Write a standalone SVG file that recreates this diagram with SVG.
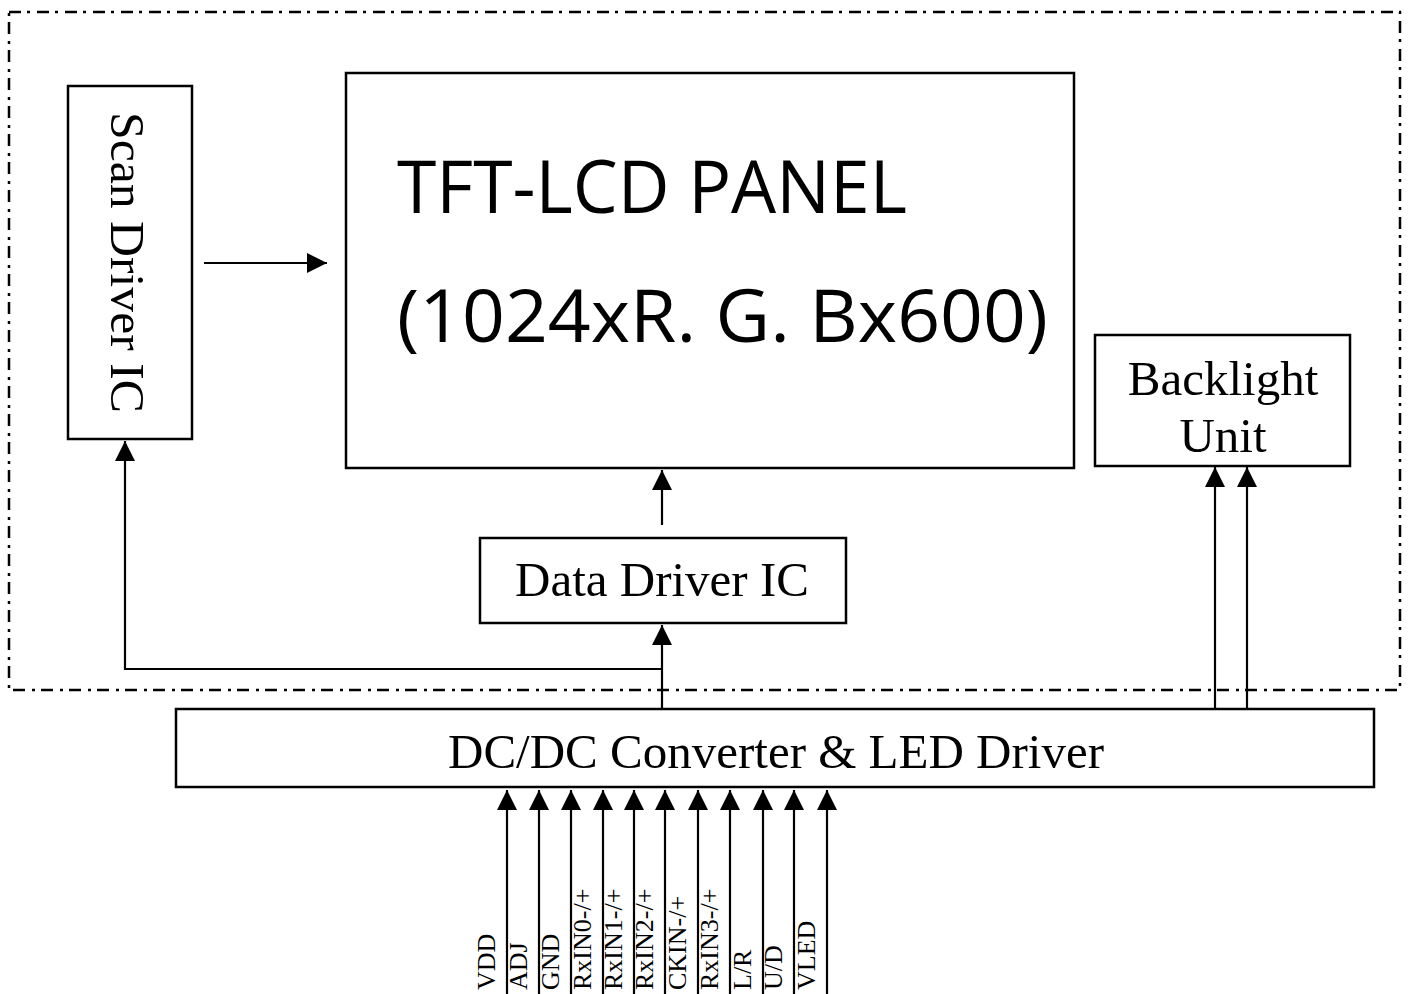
<svg xmlns="http://www.w3.org/2000/svg" width="1412" height="994" viewBox="0 0 1412 994">
<style>
.box{fill:#fff;stroke:#000;stroke-width:2.5}
.frame{fill:none;stroke:#000;stroke-width:2.5;stroke-dasharray:12 6 3 7}
.ln{fill:none;stroke:#000;stroke-width:2.2}
.arr{marker-end:url(#ah)}
.tm{font-family:"Liberation Serif","Times New Roman",serif;fill:#000}
.big{font-size:49px}
.sans{font-family:"Open Sans","Lato","Liberation Sans",sans-serif;fill:#000;font-size:74px}
.lbl{font-size:26px}
</style>
<defs>
<marker id="ah" markerUnits="userSpaceOnUse" markerWidth="20" markerHeight="20" refX="20" refY="10" orient="auto">
<path d="M0,0 L20,10 L0,20 z" fill="#000"/>
</marker>
</defs>
<rect width="1412" height="994" fill="#fff"/>
<rect id="module-frame" class="frame" x="9" y="12" width="1391" height="678"/>

<g id="connectors">
<line class="ln arr" x1="204" y1="263" x2="327" y2="263"/>
<line class="ln arr" x1="662" y1="525" x2="662" y2="470"/>
<line class="ln arr" x1="662" y1="709" x2="662" y2="625"/>
<polyline class="ln arr" points="662,669 125,669 125,441"/>
<line class="ln arr" x1="1215" y1="709" x2="1215" y2="467"/>
<line class="ln arr" x1="1247" y1="709" x2="1247" y2="467"/>
<line class="ln arr" x1="507" y1="994" x2="507" y2="790"/>
<line class="ln arr" x1="539" y1="994" x2="539" y2="790"/>
<line class="ln arr" x1="571" y1="994" x2="571" y2="790"/>
<line class="ln arr" x1="603" y1="994" x2="603" y2="790"/>
<line class="ln arr" x1="634" y1="994" x2="634" y2="790"/>
<line class="ln arr" x1="665" y1="994" x2="665" y2="790"/>
<line class="ln arr" x1="698" y1="994" x2="698" y2="790"/>
<line class="ln arr" x1="730" y1="994" x2="730" y2="790"/>
<line class="ln arr" x1="763" y1="994" x2="763" y2="790"/>
<line class="ln arr" x1="794" y1="994" x2="794" y2="790"/>
<line class="ln arr" x1="827" y1="994" x2="827" y2="790"/>
</g>

<g id="scan-driver">
<rect class="box" x="68" y="86" width="124" height="353"/>
<text class="tm big" transform="translate(111,112) rotate(90)" textLength="301" lengthAdjust="spacingAndGlyphs">Scan Driver IC</text>
</g>

<g id="tft-panel">
<rect class="box" x="346" y="73" width="728" height="395"/>
<text class="sans" x="397" y="213" textLength="510" lengthAdjust="spacingAndGlyphs">TFT-LCD PANEL</text>
<text class="sans" x="397" y="342" textLength="651" lengthAdjust="spacingAndGlyphs">(1024xR. G. Bx600)</text>
</g>

<g id="backlight">
<rect class="box" x="1095" y="335" width="255" height="131"/>
<text class="tm big" x="1223" y="395" text-anchor="middle">Backlight</text>
<text class="tm big" x="1223" y="452" text-anchor="middle">Unit</text>
</g>

<g id="data-driver">
<rect class="box" x="480" y="538" width="366" height="85"/>
<text class="tm big" x="662" y="596" text-anchor="middle">Data Driver IC</text>
</g>

<g id="dcdc">
<rect class="box" x="176" y="709" width="1198" height="78"/>
<text class="tm big" x="776" y="768" text-anchor="middle">DC/DC Converter &amp; LED Driver</text>
</g>

<g id="input-labels" class="tm lbl">
<text transform="translate(495,990) rotate(-90)">VDD</text>
<text transform="translate(527,990) rotate(-90)">ADJ</text>
<text transform="translate(559,990) rotate(-90)">GND</text>
<text transform="translate(591,990) rotate(-90)">RxIN0-/+</text>
<text transform="translate(622,990) rotate(-90)">RxIN1-/+</text>
<text transform="translate(653,990) rotate(-90)">RxIN2-/+</text>
<text transform="translate(686,990) rotate(-90)">CKIN-/+</text>
<text transform="translate(718,990) rotate(-90)">RxIN3-/+</text>
<text transform="translate(751,990) rotate(-90)">L/R</text>
<text transform="translate(782,990) rotate(-90)">U/D</text>
<text transform="translate(815,990) rotate(-90)">VLED</text>
</g>
</svg>
